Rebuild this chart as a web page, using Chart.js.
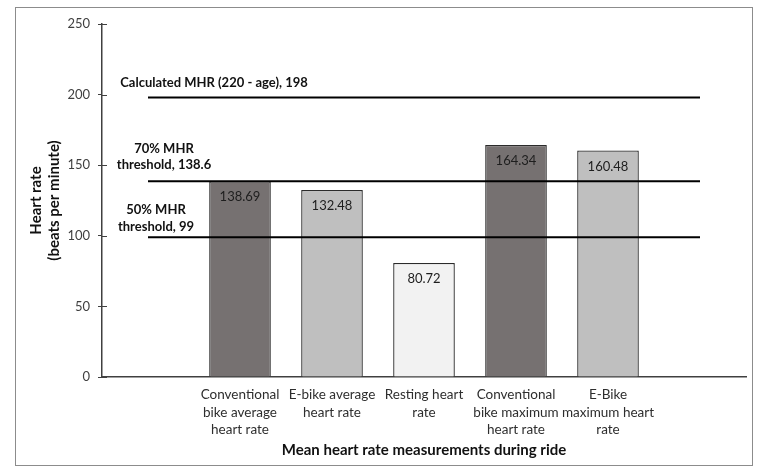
<!DOCTYPE html>
<html>
<head>
<meta charset="utf-8">
<script src="https://cdn.jsdelivr.net/npm/chart.js@4"></script>
<style>
  html, body { margin: 0; padding: 0; background: #fff; }
  #wrap { width: 766px; height: 473px; }
</style>
</head>
<body>
<div id="wrap"><canvas id="grafico" width="766" height="473"></canvas></div>
<script>
// categorias (a primeira e a última ficam vazias, como no gráfico original)
const categorias = [
    '',
    ['Conventional', 'bike average', 'heart rate'],
    ['E-bike average', 'heart rate'],
    ['Resting heart', 'rate'],
    ['Conventional', 'bike maximum', 'heart rate'],
    ['E-Bike', 'maximum heart', 'rate'],
    ''
];
const frequencias = [null, 138.69, 132.48, 80.72, 164.34, 160.48, null];
const coresBarras = ['#767171', '#767171', '#bfbfbf', '#f2f2f2', '#767171', '#bfbfbf', '#767171'];

// linhas de referência
const linhaMHR = [198, 198, 198, 198, 198, 198, 198];
const linha70 = [138.6, 138.6, 138.6, 138.6, 138.6, 138.6, 138.6];
const linha50 = [99, 99, 99, 99, 99, 99, 99];
const rotulosLinhas = [
    ['Calculated MHR (220 - age), 198'],
    ['70% MHR', 'threshold, 138.6'],
    ['50% MHR', 'threshold, 99']
];

const ticksY = [0, 50, 100, 150, 200, 250];
const tituloY = ['Heart rate', '(beats per minute)'];
const tituloX = 'Mean heart rate measurements during ride';

// moldura externa + rótulos dos dados
const pluginExtras = {
    id: 'extras',
    afterDraw(chart) {
        const ctx = chart.ctx;
        ctx.save();
        ctx.strokeStyle = '#8c8c8c';
        ctx.lineWidth = 1;
        ctx.strokeRect(15.5, 7.5, 737, 458);

        // marcas do eixo y cruzando para dentro da área
        const y = chart.scales.y;
        ctx.strokeStyle = '#404040';
        ctx.lineWidth = 1;
        y.ticks.forEach(t => {
            const py = Math.round(y.getPixelForValue(t.value)) + 0.5;
            ctx.beginPath();
            ctx.moveTo(y.right, py);
            ctx.lineTo(y.right + 5, py);
            ctx.stroke();
        });

        // valores dentro das barras
        ctx.fillStyle = '#1e1e1e';
        ctx.font = '13px Lato';
        ctx.textAlign = 'center';
        ctx.textBaseline = 'middle';
        chart.getDatasetMeta(0).data.forEach((barra, i) => {
            if (frequencias[i] == null) return;
            ctx.fillText(frequencias[i].toFixed(2), barra.x, barra.y + 16);
        });

        // rótulos das linhas
        const deslocamentos = [[66, [-15]], [16, [-32, -16]], [8, [-27, -10]]];
        ctx.font = 'bold 13px Lato';
        ctx.fillStyle = '#111';
        rotulosLinhas.forEach((linhas, k) => {
            const p = chart.getDatasetMeta(k + 1).data[0];
            const [dx, dys] = deslocamentos[k];
            linhas.forEach((txt, j) => ctx.fillText(txt, p.x + dx, p.y + dys[j]));
        });
        ctx.restore();
    }
};

const linhaBase = {
    type: 'line',
    borderColor: '#000',
    borderWidth: 2,
    pointRadius: 0,
    fill: false,
    order: 0
};

new Chart(document.getElementById('grafico').getContext('2d'), {
    type: 'bar',
    data: {
        labels: categorias,
        datasets: [{
            label: 'Heart rate',
            data: frequencias,
            backgroundColor: coresBarras,
            borderColor: '#2b2b2b',
            borderWidth: 1.3,
            borderSkipped: 'bottom',
            categoryPercentage: 1,
            barPercentage: 0.67,
            order: 1
        },
        Object.assign({ label: 'Calculated MHR (220 - age)', data: linhaMHR }, linhaBase),
        Object.assign({ label: '70% MHR threshold', data: linha70 }, linhaBase),
        Object.assign({ label: '50% MHR threshold', data: linha50 }, linhaBase)]
    },
    options: {
        responsive: false,
        animation: false,
        layout: { padding: { left: 0, right: 20, top: 24, bottom: 0 } },
        plugins: {
            legend: { display: false },
            tooltip: { enabled: false }
        },
        scales: {
            x: {
                offset: true,
                grid: { display: false, drawTicks: false },
                border: { display: true, color: '#404040', width: 1.5 },
                ticks: {
                    color: '#2e2e2e',
                    font: { family: 'Lato', size: 13.5, lineHeight: 1.3 },
                    padding: 9,
                    maxRotation: 0,
                    autoSkip: false
                },
                title: {
                    display: true,
                    text: tituloX,
                    color: '#111',
                    font: { family: 'Lato', size: 15, weight: 'bold', lineHeight: 1.2 },
                    padding: { top: 0, bottom: 14 }
                },
                afterFit: (escala) => { escala.height = 96; }
            },
            y: {
                min: 0,
                max: 250,
                afterBuildTicks: (escala) => { escala.ticks = ticksY.map(v => ({ value: v })); },
                grid: { drawOnChartArea: false, tickLength: 4, color: '#404040' },
                border: { display: true, color: '#404040', width: 1.5 },
                ticks: {
                    color: '#404040',
                    font: { family: 'Lato', size: 13 },
                    padding: 8
                },
                title: {
                    display: true,
                    text: tituloY,
                    color: '#111',
                    font: { family: 'Lato', size: 15, weight: 'bold', lineHeight: 1.2 },
                    padding: { top: 27, bottom: 0 }
                },
                afterFit: (escala) => { escala.width = 102; }
            }
        }
    },
    plugins: [pluginExtras]
});
</script>
</body>
</html>
